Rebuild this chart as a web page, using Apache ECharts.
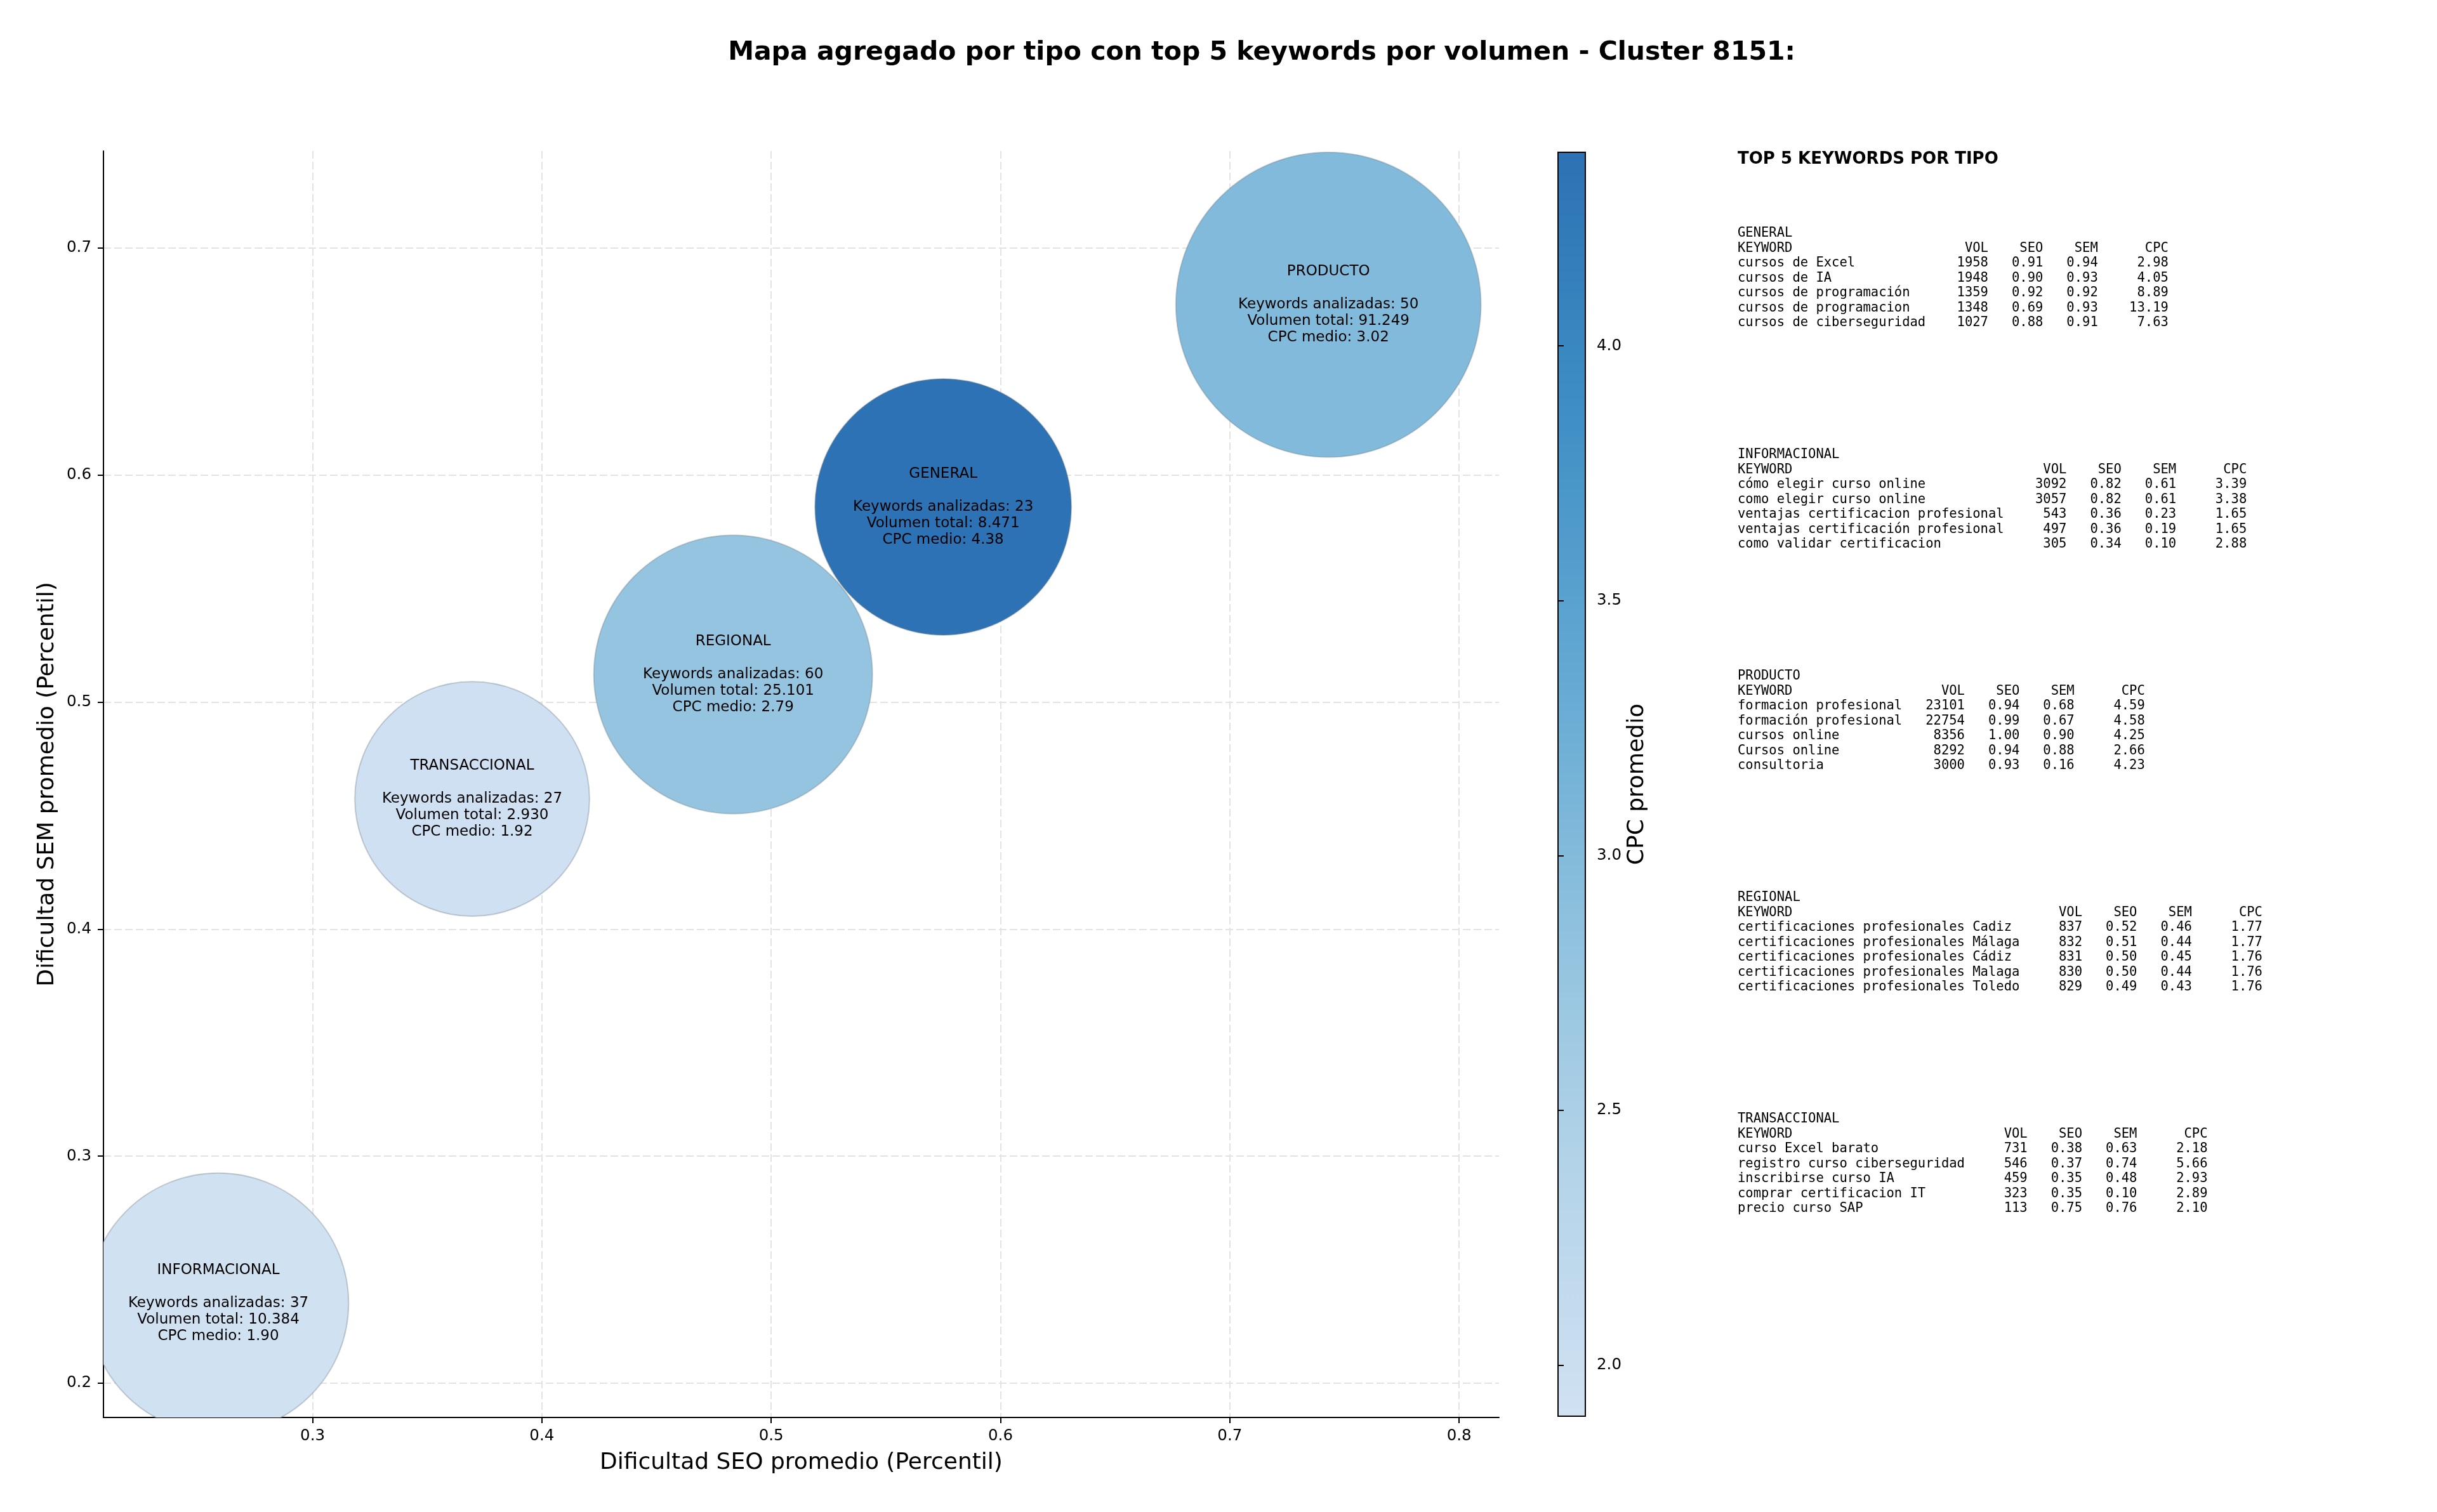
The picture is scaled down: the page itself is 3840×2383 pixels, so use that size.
<!DOCTYPE html>
<html>
<head>
<meta charset="utf-8">
<script src="https://cdn.jsdelivr.net/npm/echarts@6/dist/echarts.min.js"></script>
<style>
html,body{margin:0;padding:0;background:#fff;}
#chart{width:3840px;height:2383px;}
</style>
</head>
<body>
<div id="chart"></div>
<script>
// ---------------- DATA ----------------
const tipos = ['GENERAL', 'INFORMACIONAL', 'PRODUCTO', 'REGIONAL', 'TRANSACCIONAL'];
const seoPromedio = [0.5750, 0.2589, 0.7430, 0.4834, 0.3696];
const semPromedio = [0.5860, 0.2352, 0.6751, 0.5122, 0.4574];
const cpcMedio = [4.38, 1.90, 3.02, 2.79, 1.92];
const volumenTotal = [8471, 10384, 91249, 25101, 2930];
const keywordsAnalizadas = [23, 37, 50, 60, 27];

const xTickValues = [0.3, 0.4, 0.5, 0.6, 0.7, 0.8];
const yTickValues = [0.2, 0.3, 0.4, 0.5, 0.6, 0.7];
const cbTickValues = [2.0, 2.5, 3.0, 3.5, 4.0];

// Top 5 keywords per type
const kwGeneral = ['cursos de Excel', 'cursos de IA', 'cursos de programación', 'cursos de programacion', 'cursos de ciberseguridad'];
const volGeneral = [1958, 1948, 1359, 1348, 1027];
const seoGeneral = [0.91, 0.90, 0.92, 0.69, 0.88];
const semGeneral = [0.94, 0.93, 0.92, 0.93, 0.91];
const cpcGeneral = [2.98, 4.05, 8.89, 13.19, 7.63];

const kwInformacional = ['cómo elegir curso online', 'como elegir curso online', 'ventajas certificacion profesional', 'ventajas certificación profesional', 'como validar certificacion'];
const volInformacional = [3092, 3057, 543, 497, 305];
const seoInformacional = [0.82, 0.82, 0.36, 0.36, 0.34];
const semInformacional = [0.61, 0.61, 0.23, 0.19, 0.10];
const cpcInformacional = [3.39, 3.38, 1.65, 1.65, 2.88];

const kwProducto = ['formacion profesional', 'formación profesional', 'cursos online', 'Cursos online', 'consultoria'];
const volProducto = [23101, 22754, 8356, 8292, 3000];
const seoProducto = [0.94, 0.99, 1.00, 0.94, 0.93];
const semProducto = [0.68, 0.67, 0.90, 0.88, 0.16];
const cpcProducto = [4.59, 4.58, 4.25, 2.66, 4.23];

const kwRegional = ['certificaciones profesionales Cadiz', 'certificaciones profesionales Málaga', 'certificaciones profesionales Cádiz', 'certificaciones profesionales Malaga', 'certificaciones profesionales Toledo'];
const volRegional = [837, 832, 831, 830, 829];
const seoRegional = [0.52, 0.51, 0.50, 0.50, 0.49];
const semRegional = [0.46, 0.44, 0.45, 0.44, 0.43];
const cpcRegional = [1.77, 1.77, 1.76, 1.76, 1.76];

const kwTransaccional = ['curso Excel barato', 'registro curso ciberseguridad', 'inscribirse curso IA', 'comprar certificacion IT', 'precio curso SAP'];
const volTransaccional = [731, 546, 459, 323, 113];
const seoTransaccional = [0.38, 0.37, 0.35, 0.35, 0.75];
const semTransaccional = [0.63, 0.74, 0.48, 0.10, 0.76];
const cpcTransaccional = [2.18, 5.66, 2.93, 2.89, 2.10];

// ---------------- BUILD ----------------
const FONT = "'DejaVu Sans', 'Noto Sans', sans-serif";
const MONO = "'DejaVu Sans Mono', 'Liberation Mono', monospace";
const blues = ['#d0e1f2', '#b3d3e8', '#8cc0dd', '#61a7d2', '#3e8ec4', '#2c72b4'];

function fmtMiles(n) {
  return String(n).replace(/\B(?=(\d{3})+(?!\d))/g, '.');
}

function bubbleDiameter(vol) {
  return 112.3 + 32.25 * Math.log(vol);
}

const scatterData = tipos.map((t, i) => [seoPromedio[i], semPromedio[i], cpcMedio[i], volumenTotal[i], keywordsAnalizadas[i], i]);

const cpcMin = Math.min(...cpcMedio);
const cpcMax = Math.max(...cpcMedio);

function buildBlock(name, kws, vols, seos, sems, cpcs) {
  const w = Math.max('KEYWORD'.length, ...kws.map(k => k.length));
  const lines = [name,
    'KEYWORD'.padEnd(w) + 'VOL'.padStart(8) + 'SEO'.padStart(7) + 'SEM'.padStart(7) + 'CPC'.padStart(9)];
  kws.forEach((k, i) => {
    lines.push(k.padEnd(w) + String(vols[i]).padStart(8) + seos[i].toFixed(2).padStart(7) +
      sems[i].toFixed(2).padStart(7) + cpcs[i].toFixed(2).padStart(9));
  });
  return lines.join('\n');
}

const blocks = [
  buildBlock('GENERAL', kwGeneral, volGeneral, seoGeneral, semGeneral, cpcGeneral),
  buildBlock('INFORMACIONAL', kwInformacional, volInformacional, seoInformacional, semInformacional, cpcInformacional),
  buildBlock('PRODUCTO', kwProducto, volProducto, seoProducto, semProducto, cpcProducto),
  buildBlock('REGIONAL', kwRegional, volRegional, seoRegional, semRegional, cpcRegional),
  buildBlock('TRANSACCIONAL', kwTransaccional, volTransaccional, seoTransaccional, semTransaccional, cpcTransaccional)
];

const graphics = [
  {
    type: 'text', x: 1988, y: 83,
    style: {
      text: 'Mapa agregado por tipo con top 5 keywords por volumen - Cluster 8151:',
      font: "bold 41px " + FONT, fill: '#000',
      textAlign: 'center', textVerticalAlign: 'middle', align: 'center', verticalAlign: 'middle'
    }
  },
  {
    type: 'text', x: 2738, y: 251,
    style: {
      text: 'TOP 5 KEYWORDS POR TIPO',
      font: "bold 26px " + FONT, fill: '#000',
      textAlign: 'left', textVerticalAlign: 'middle', align: 'left', verticalAlign: 'middle'
    }
  }
];
blocks.forEach((b, i) => {
  graphics.push({
    type: 'text', x: 2738, y: 368 - 11.75 + i * 349,
    style: {
      text: b, font: "20.5px " + MONO, fill: '#000', lineHeight: 23.5,
      textAlign: 'left', textVerticalAlign: 'top', align: 'left', verticalAlign: 'top'
    }
  });
});

const axisCommon = {
  axisLine: { show: true, onZero: false, lineStyle: { color: '#000', width: 2 } },
  axisTick: { show: true, inside: false, length: 9, lineStyle: { color: '#000', width: 2 } },
  splitLine: { show: true, lineStyle: { color: '#e3e3e3', width: 2, type: [12, 5] } }
};

function renderBubble(params, api) {
  const idx = api.value(5);
  const pt = api.coord([api.value(0), api.value(1)]);
  const r = bubbleDiameter(api.value(3)) / 2;
  const label = [tipos[idx], '', 'Keywords analizadas: ' + api.value(4),
    'Volumen total: ' + fmtMiles(api.value(3)), 'CPC medio: ' + api.value(2).toFixed(2)].join('\n');
  return {
    type: 'circle',
    shape: { cx: pt[0], cy: pt[1], r: r },
    style: { fill: api.visual('color'), stroke: 'rgba(110,120,130,0.35)', lineWidth: 2 },
    textContent: {
      style: {
        text: label, fill: '#000', font: '23px ' + FONT, lineHeight: 26,
        align: 'center', textAlign: 'center'
      }
    },
    textConfig: { position: 'inside' }
  };
}

const option = {
  backgroundColor: '#fff',
  animation: false,
  textStyle: { fontFamily: FONT },
  graphic: graphics,
  grid: [
    { left: 163, top: 238, width: 2199, height: 1996, containLabel: false },
    {
      left: 2455, top: 240, width: 43, height: 1992, show: true,
      borderColor: '#000', borderWidth: 2,
      backgroundColor: new echarts.graphic.LinearGradient(0, 1, 0, 0,
        blues.map((c, i) => ({ offset: i / (blues.length - 1), color: c })))
    }
  ],
  xAxis: [
    Object.assign({}, axisCommon, {
      type: 'value', gridIndex: 0, min: 0.2088, max: 0.8174,
      name: 'Dificultad SEO promedio (Percentil)', nameLocation: 'middle', nameGap: 54,
      nameTextStyle: { fontSize: 36, color: '#000', fontFamily: FONT },
      axisLabel: { customValues: xTickValues, fontSize: 24.5, color: '#000', margin: 17, fontFamily: FONT,
        formatter: v => String(+v.toFixed(1)) },
      axisTick: Object.assign({}, axisCommon.axisTick, { customValues: xTickValues })
    }),
    { type: 'value', gridIndex: 1, min: 0, max: 1, show: false }
  ],
  yAxis: [
    Object.assign({}, axisCommon, {
      type: 'value', gridIndex: 0, min: 0.1849, max: 0.7428,
      name: 'Dificultad SEM promedio (Percentil)', nameLocation: 'middle', nameGap: 70, nameRotate: 90,
      nameTextStyle: { fontSize: 36, color: '#000', fontFamily: FONT },
      axisLabel: { customValues: yTickValues, fontSize: 24.5, color: '#000', margin: 19, fontFamily: FONT,
        formatter: v => String(+v.toFixed(1)) },
      axisTick: Object.assign({}, axisCommon.axisTick, { customValues: yTickValues })
    }),
    {
      type: 'value', gridIndex: 1, position: 'right', min: cpcMin, max: cpcMax,
      name: 'CPC promedio', nameLocation: 'middle', nameGap: 64, nameRotate: 90,
      nameTextStyle: { fontSize: 36, color: '#000', fontFamily: FONT },
      axisLine: { show: true, lineStyle: { color: '#000', width: 2 } },
      axisTick: { show: true, inside: false, length: 9, customValues: cbTickValues, lineStyle: { color: '#000', width: 2 } },
      axisLabel: { customValues: cbTickValues, fontSize: 24.5, color: '#000', margin: 18, fontFamily: FONT,
        formatter: v => v.toFixed(1) },
      splitLine: { show: false }
    }
  ],
  visualMap: {
    show: false, type: 'continuous', seriesIndex: 0, dimension: 2,
    min: cpcMin, max: cpcMax,
    inRange: { color: blues }
  },
  series: [
    {
      type: 'custom',
      xAxisIndex: 0, yAxisIndex: 0,
      clip: true,
      data: scatterData,
      encode: { x: 0, y: 1 },
      renderItem: renderBubble,
      emphasis: { disabled: true }
    }
  ]
};

const chart = echarts.init(document.getElementById('chart'), null, { renderer: 'canvas' });
chart.setOption(option);
</script>
</body>
</html>
